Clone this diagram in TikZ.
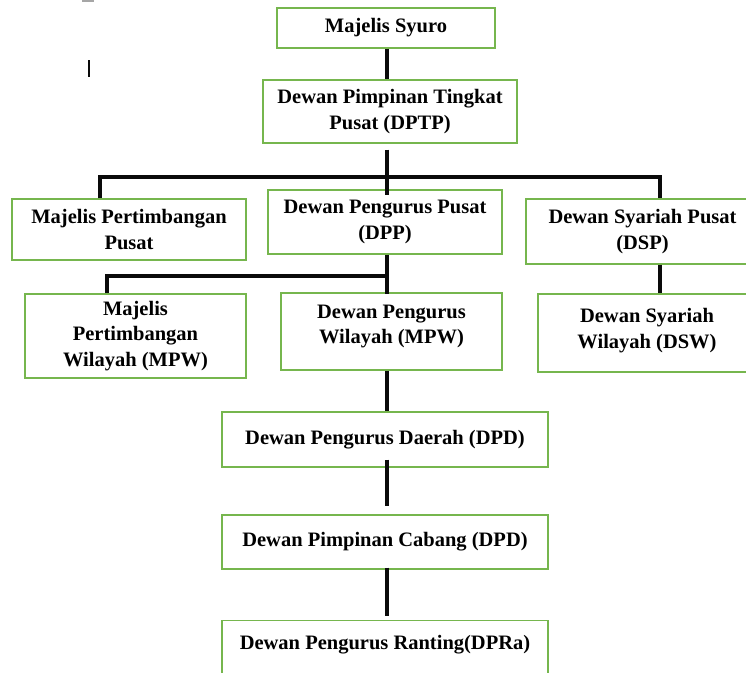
\documentclass[tikz,border=0pt]{standalone}
\usepackage{xcolor}
\usepackage{fontspec}
\setmainfont{Liberation Serif}
\usepackage{tikz}
\definecolor{boxgreen}{RGB}{118, 182, 78}
\definecolor{linkblack}{RGB}{10, 10, 10}

\tikzset{
  unitbox/.style={draw=boxgreen, line width=1.3pt, fill=white, align=center,
    font=\fontsize{20.5}{25.5}\selectfont\bfseries, inner sep=0pt},
  link/.style={linkblack, line width=3.6pt, line join=miter}
}

\begin{document}
\begin{tikzpicture}[x=1pt, y=-1pt]
					\useasboundingbox (0,0) rectangle (746,672);
					\clip (0,0) rectangle (746,672);
					\fill[white] (0,0) rectangle (746,672);
					% marks at the top left
					\fill[gray!70] (82,0) rectangle (94,1.5);
					\draw[linkblack, line width=1.4pt] (89,60) -- (89,77);
					
					% boxes
					\node[unitbox, minimum width=218pt, minimum height=40pt] (syuro) at (386,28) {Majelis Syuro};
					\node[unitbox, minimum width=254pt, minimum height=63pt] (dptp) at (390,111.5) {Dewan Pimpinan Tingkat\\Pusat (DPTP)};
					\node[unitbox, minimum width=234pt, minimum height=61pt] (mpp) at (129,229.5) {Majelis Pertimbangan\\Pusat};
					\node[unitbox, minimum width=234pt, minimum height=64pt] (dpp) at (385,222) {Dewan Pengurus Pusat\\(DPP)};
					\node[unitbox, minimum width=233pt, minimum height=65pt] (dsp) at (642.5,231.5) {Dewan Syariah Pusat\\(DSP)};
					\node[unitbox, minimum width=221pt, minimum height=84pt] (mpw) at (135.5,336) {Majelis\\Pertimbangan\\Wilayah (MPW)};
					\node[unitbox, minimum width=221pt, minimum height=77pt, text depth=14pt] (dpw) at (391.5,331.5) {Dewan Pengurus\\Wilayah (MPW)};
					\node[unitbox, minimum width=218pt, minimum height=78pt, text depth=9pt] (dsw) at (647,333) {Dewan Syariah\\Wilayah (DSW)};
					\node[unitbox, minimum width=326pt, minimum height=55pt] (dpd) at (385,439.5) {Dewan Pengurus Daerah (DPD)};
					\node[unitbox, minimum width=326pt, minimum height=54pt] (dpc) at (385,542) {Dewan Pimpinan Cabang (DPD)};
					\node[unitbox, minimum width=326pt, minimum height=55pt, text depth=12pt] (dpr) at (385,648) {Dewan Pengurus Ranting(DPRa)};
					
					% lines
					\coordinate (l1) at (100,177);
					\coordinate (r1) at (660,177);
					\coordinate (l2) at (107,276);
					\coordinate (c2) at (387,276);
					\draw[link] (syuro.south -| c2) -- (dptp.north -| c2);
					\draw[link] ([yshift=-6pt]dptp.south -| c2) -- ([yshift=-6pt]dpp.north -| c2);
					\draw[link] (mpp.north -| l1) |- (r1) -- (r1 |- dsp.north);
					\draw[link] (mpw.north -| l2) |- (c2);
					\draw[link] (dpp.south -| c2) -- ([yshift=-2pt]dpw.north -| c2);
					\draw[link] (dsp.south -| r1) -- (dsw.north -| r1);
					\draw[link] (dpw.south -| c2) -- (dpd.north -| c2);
					\draw[link] ([yshift=8pt]dpd.south -| c2) -- ([yshift=8pt]dpc.north -| c2);
					\draw[link] ([yshift=2pt]dpc.south -| c2) -- ([yshift=4pt]dpr.north -| c2);
				\end{tikzpicture}
\end{document}
